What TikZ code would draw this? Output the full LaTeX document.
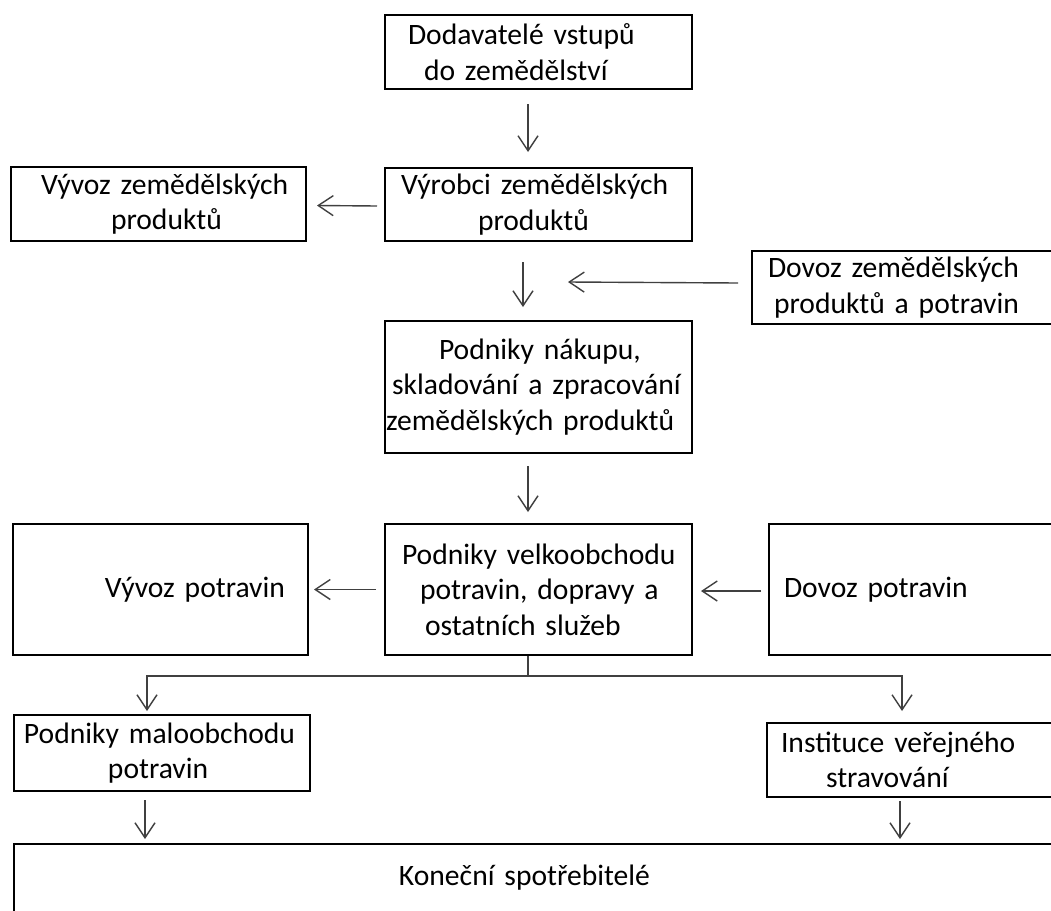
\documentclass[tikz,border=0pt]{standalone}
\usepackage{fontspec}
\setmainfont{Carlito}
\usetikzlibrary{arrows.meta}

\tikzset{
  box/.style={draw, line width=1pt, anchor=north west, inner sep=0pt,
    align=left, font=\fontsize{14.8pt}{17.8pt}\selectfont},
  arr/.style={draw=black!75, line width=0.7pt,
    -{Straight Barb[length=7.5pt,width=10pt]}},
  link/.style={draw=black!75, line width=0.7pt}
}

\begin{document}
\begin{tikzpicture}[x=0.5pt,y=-0.5pt]
            \clip (0,0) rectangle (1051,911);
            % boxes
            \node[box, text width=153.5pt, minimum height=37pt] (dodav) at (384,14)
              {\hspace*{11.5pt}Dodavatelé vstupů\\\hspace*{19.5pt}do zemědělství};
            \node[box, text width=153.5pt, minimum height=36.5pt] (vyrob) at (384,167)
              {\hspace*{8pt}Výrobci zemědělských\\\hspace*{46.5pt}produktů};
            \node[box, text width=147.5pt, minimum height=37pt] (vyvozzem) at (10,166)
              {\hspace*{15pt}Vývoz zemědělských\\\hspace*{50pt}produktů};
            \node[box, text width=152.5pt, minimum height=36.5pt] (dovozzem) at (751,250)
              {\hspace*{8pt}Dovoz zemědělských\\\hspace*{11pt}produktů a potravin};
            \node[box, text width=153.5pt, minimum height=66pt] (nakup) at (384,320)
              {\hspace*{27pt}Podniky nákupu,\\\hspace*{3.5pt}skladování a zpracování\\\hspace*{0.5pt}zemědělských produktů};
            \node[box, text width=153.5pt, minimum height=65.5pt] (velko) at (384,523)
              {\hspace*{8.5pt}Podniky velkoobchodu\\\hspace*{17.5pt}potravin, dopravy a\\\hspace*{20pt}ostatních služeb};
            \node[box, text width=147.5pt, minimum height=65.5pt] (vyvozpot) at (12,523)
              {\hspace*{46pt}Vývoz potravin};
            \node[box, text width=144pt, minimum height=65.5pt] (dovozpot) at (768,523)
              {\hspace*{7.5pt}Dovoz potravin};
            \node[box, text width=148pt, minimum height=38pt] (malo) at (13,714)
              {\hspace*{5pt}Podniky maloobchodu\\\hspace*{47pt}potravin};
            \node[box, text width=145pt, minimum height=37pt] (instit) at (766,722)
              {\hspace*{7pt}Instituce veřejného\\\hspace*{29.5pt}stravování};
            \node[box, text width=521.5pt, minimum height=34pt] (spotr) at (13,843)
              {\hspace*{192.5pt}Koneční spotřebitelé};
            % arrows
            \coordinate (vstup) at (568,282);
            \coordinate (split) at ([xshift=-5.25pt,yshift=-10pt]velko.south);
            \draw[arr] ([xshift=-5.25pt,yshift=-7pt]dodav.south) -- ([xshift=-5.25pt,yshift=7.5pt]vyrob.north);
            \draw[arr] ([xshift=-3.5pt,yshift=-0.75pt]vyrob.west) -- ([xshift=5pt,yshift=-0.75pt]vyvozzem.east);
            \draw[arr] ([xshift=-7.75pt,yshift=-10pt]vyrob.south) -- ([xshift=-7.75pt,yshift=6.5pt]nakup.north);
            \draw[arr] ([xshift=-6.5pt,yshift=2.25pt]dovozzem.west) -- (vstup);
            \draw[arr] ([xshift=-5.25pt,yshift=-6pt]nakup.south) -- ([xshift=-5.25pt,yshift=5.5pt]velko.north);
            \draw[arr] ([xshift=-4pt]velko.west) -- ([xshift=2.5pt]vyvozpot.east);
            \draw[arr] ([xshift=-3.5pt,yshift=-0.75pt]dovozpot.west) -- ([xshift=4pt,yshift=-0.75pt]velko.east);
            \draw[link] ([xshift=-5.25pt]velko.south) -- (split);
            \draw[arr] (split) -| ([xshift=-7.5pt,yshift=1.5pt]malo.north);
            \draw[arr] (split) -| ([xshift=-5pt,yshift=5.5pt]instit.north);
            \draw[arr] ([xshift=-8.5pt,yshift=-4pt]malo.south) -- ++(0,39);
            \draw[arr] ([xshift=-6pt,yshift=-1.5pt]instit.south) -- ++(0,38);
\end{tikzpicture}
\end{document}
